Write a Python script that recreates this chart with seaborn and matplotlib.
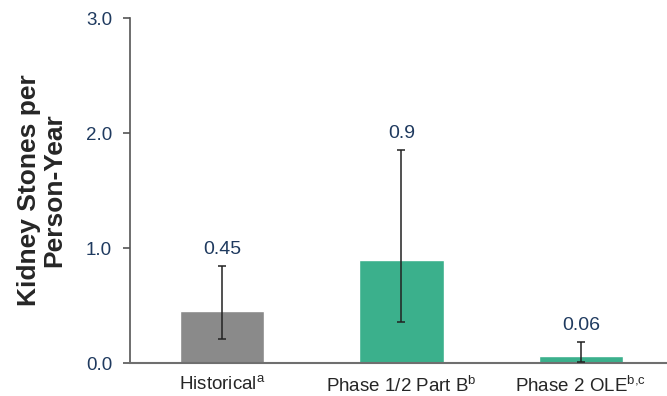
import matplotlib
matplotlib.use("Agg")
import matplotlib.pyplot as plt
import seaborn as sns
import pandas as pd
import numpy as np

# Annualized kidney stone rates with 95% CI
groups = ["Historical", "Phase 1/2 Part B", "Phase 2 OLE"]
group_labels = [r"Historical$^{\mathrm{a}}$", r"Phase 1/2 Part B$^{\mathrm{b}}$", r"Phase 2 OLE$^{\mathrm{b{,}c}}$"]
rates = [0.45, 0.90, 0.06]
ci_low = [0.21, 0.36, 0.01]
ci_high = [0.84, 1.85, 0.18]
bar_colors = ["#8a8a8a", "#3bb08c", "#3bb08c"]
y_ticks = [0.0, 1.0, 2.0, 3.0]

sns.set_theme(style="white")
plt.rcParams["font.family"] = ["Liberation Sans", "DejaVu Sans"]
plt.rcParams["mathtext.fontset"] = "custom"
plt.rcParams["mathtext.rm"] = "Liberation Sans"

df = pd.DataFrame({"group": groups, "rate": rates})

fig = plt.figure(figsize=(6.67, 3.96), dpi=100)
ax = fig.add_axes([0.195, 0.0833, 0.805, 0.8712])

sns.barplot(data=df, x="group", y="rate", hue="group", palette=bar_colors,
            legend=False, width=0.47, errorbar=None, ax=ax, saturation=1)

x = np.arange(len(groups))
yerr = np.array([np.array(rates) - np.array(ci_low), np.array(ci_high) - np.array(rates)])
ax.errorbar(x, rates, yerr=yerr, fmt="none", ecolor="#222222", elinewidth=1.1,
            capsize=3, capthick=1.1, zorder=5)

label_color = "#1f3a5f"
for xi, r, hi in zip(x, rates, ci_high):
    ax.text(xi, hi + 0.07, f"{r:g}", ha="center", va="bottom", fontsize=14, color=label_color)

ax.set_ylim(0, 3.0)
ax.set_xlim(-0.513, 2.48)
ax.set_yticks(y_ticks)
ax.set_yticklabels([f"{t:.1f}" for t in y_ticks], fontsize=13.5, color=label_color)
ax.set_xticks(x)
ax.set_xticklabels(group_labels, fontsize=13.5, color="#262626")
ax.set_xlabel("")
ax.set_ylabel("Kidney Stones per\nPerson-Year", fontsize=19, fontweight="bold",
              color="#262626", labelpad=14, linespacing=1.08)

for side in ["top", "right"]:
    ax.spines[side].set_visible(False)
ax.spines["left"].set_color("#555555")
ax.spines["left"].set_linewidth(1.2)
ax.spines["bottom"].set_color("#6f6f6f")
ax.spines["bottom"].set_linewidth(1.5)
ax.tick_params(axis="y", which="both", left=True, length=5, width=1.2, color="#555555", pad=8)
ax.tick_params(axis="x", which="both", bottom=False, pad=3)

fig.savefig("out.png", dpi=100)
